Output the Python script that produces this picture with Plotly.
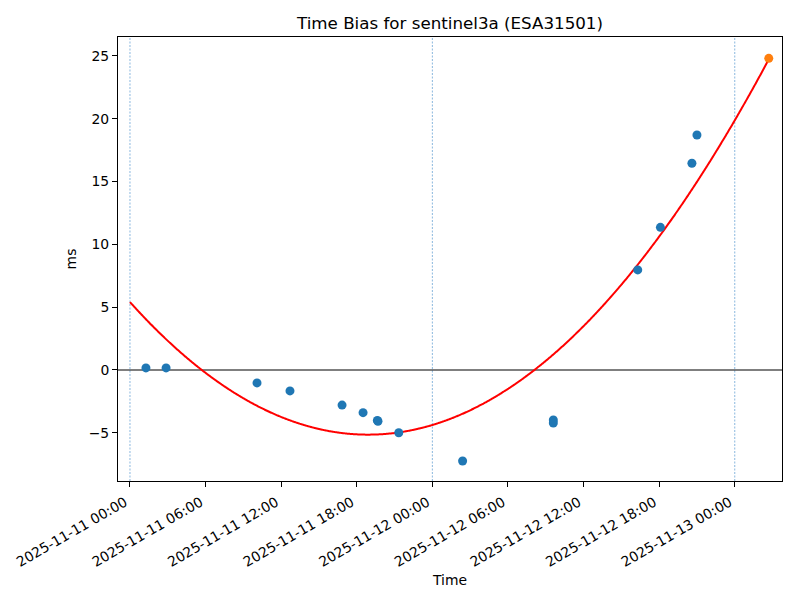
import numpy as np
import pandas as pd
import plotly.graph_objects as go

# Observed time bias (blue points)
obs_times = ["2025-11-11 01:16", "2025-11-11 02:52", "2025-11-11 10:05", "2025-11-11 12:42",
             "2025-11-11 16:50", "2025-11-11 18:30", "2025-11-11 19:38", "2025-11-11 19:41",
             "2025-11-11 21:20", "2025-11-12 02:24", "2025-11-12 09:36", "2025-11-12 09:36",
             "2025-11-12 16:18", "2025-11-12 18:06", "2025-11-12 20:36", "2025-11-12 21:00"]
obs_ms = [0.16, 0.16, -1.03, -1.67, -2.8, -3.4, -4.02, -4.08, -5.0, -7.25, -3.98, -4.22,
          7.96, 11.35, 16.45, 18.7]

# Predicted point (orange)
pred_time = ["2025-11-13 02:42"]
pred_ms = [24.8]

# Quadratic fit parameters (hours since 2025-11-11 00:00)
fit_start = "2025-11-11 00:00"
fit_end_hours = 50.7
fit_vertex_hours = 18.9
fit_vertex_ms = -5.15
fit_curv = 0.02954

day_lines = ["2025-11-11 00:00", "2025-11-12 00:00", "2025-11-13 00:00"]
tick_vals = pd.date_range("2025-11-11 00:00", "2025-11-13 00:00", freq="6h")
tick_text = [t.strftime("%Y-%m-%d %H:%M") for t in tick_vals]

t0 = pd.Timestamp(fit_start)
hrs = np.linspace(0, fit_end_hours, 600)
fit_t = [t0 + pd.Timedelta(hours=float(h)) for h in hrs]
fit_y = fit_curv * (hrs - fit_vertex_hours) ** 2 + fit_vertex_ms

fig = go.Figure()
fig.add_trace(go.Scatter(x=fit_t, y=fit_y, mode="lines",
                         line=dict(color="red", width=2, simplify=False, shape="spline"),
                         showlegend=False, hoverinfo="skip"))
fig.add_trace(go.Scatter(x=pd.to_datetime(obs_times), y=obs_ms, mode="markers",
                         marker=dict(color="#1f77b4", size=9), showlegend=False))
fig.add_trace(go.Scatter(x=pd.to_datetime(pred_time), y=pred_ms, mode="markers",
                         marker=dict(color="#ff7f0e", size=9), showlegend=False))

shapes = []
for d in day_lines:
    shapes.append(dict(type="line", xref="x", yref="paper", x0=d, x1=d, y0=0, y1=1,
                       line=dict(color="#3a86c8", width=0.6, dash="2px,1.5px"), layer="below"))
shapes.append(dict(type="line", xref="paper", yref="y", x0=0, x1=1, y0=0, y1=0,
                   line=dict(color="black", width=1.1), layer="below"))

xr0 = t0 + pd.Timedelta(hours=-0.95)
xr1 = t0 + pd.Timedelta(hours=51.75)

# page body adds an 8px offset; margins compensate for it
fig.update_layout(
    width=800, height=600,
    paper_bgcolor="white", plot_bgcolor="white",
    margin=dict(l=110, r=26, t=29, b=127, autoexpand=False),
    font=dict(family="DejaVu Sans", size=13.9, color="black"),
    title=dict(text="Time Bias for sentinel3a (ESA31501)", x=(450 - 8) / 800, xanchor="center",
               y=1 - 15 / 600, yanchor="middle", font=dict(size=16.7)),
    shapes=shapes,
    xaxis=dict(range=[xr0, xr1], tickvals=list(tick_vals), ticktext=tick_text, tickangle=-30,
               automargin=False,
               showgrid=False, zeroline=False, showline=True, linecolor="black", linewidth=1,
               mirror=True, ticks="outside", ticklen=5, tickcolor="black",
               tickfont=dict(size=13.9), ticklabelshift=-5, ticklabelstandoff=2,
               title=dict(text="Time", standoff=6, font=dict(size=13.9))),
    yaxis=dict(range=[-8.84, 26.5], tickvals=[-5, 0, 5, 10, 15, 20, 25],
               automargin=False,
               showgrid=False, zeroline=False, showline=True, linecolor="black", linewidth=1,
               mirror=True, ticks="outside", ticklen=5, tickcolor="black",
               tickfont=dict(size=13.9),
               title=dict(text="ms", standoff=8, font=dict(size=13.9))),
)

fig.write_html("out.html")
